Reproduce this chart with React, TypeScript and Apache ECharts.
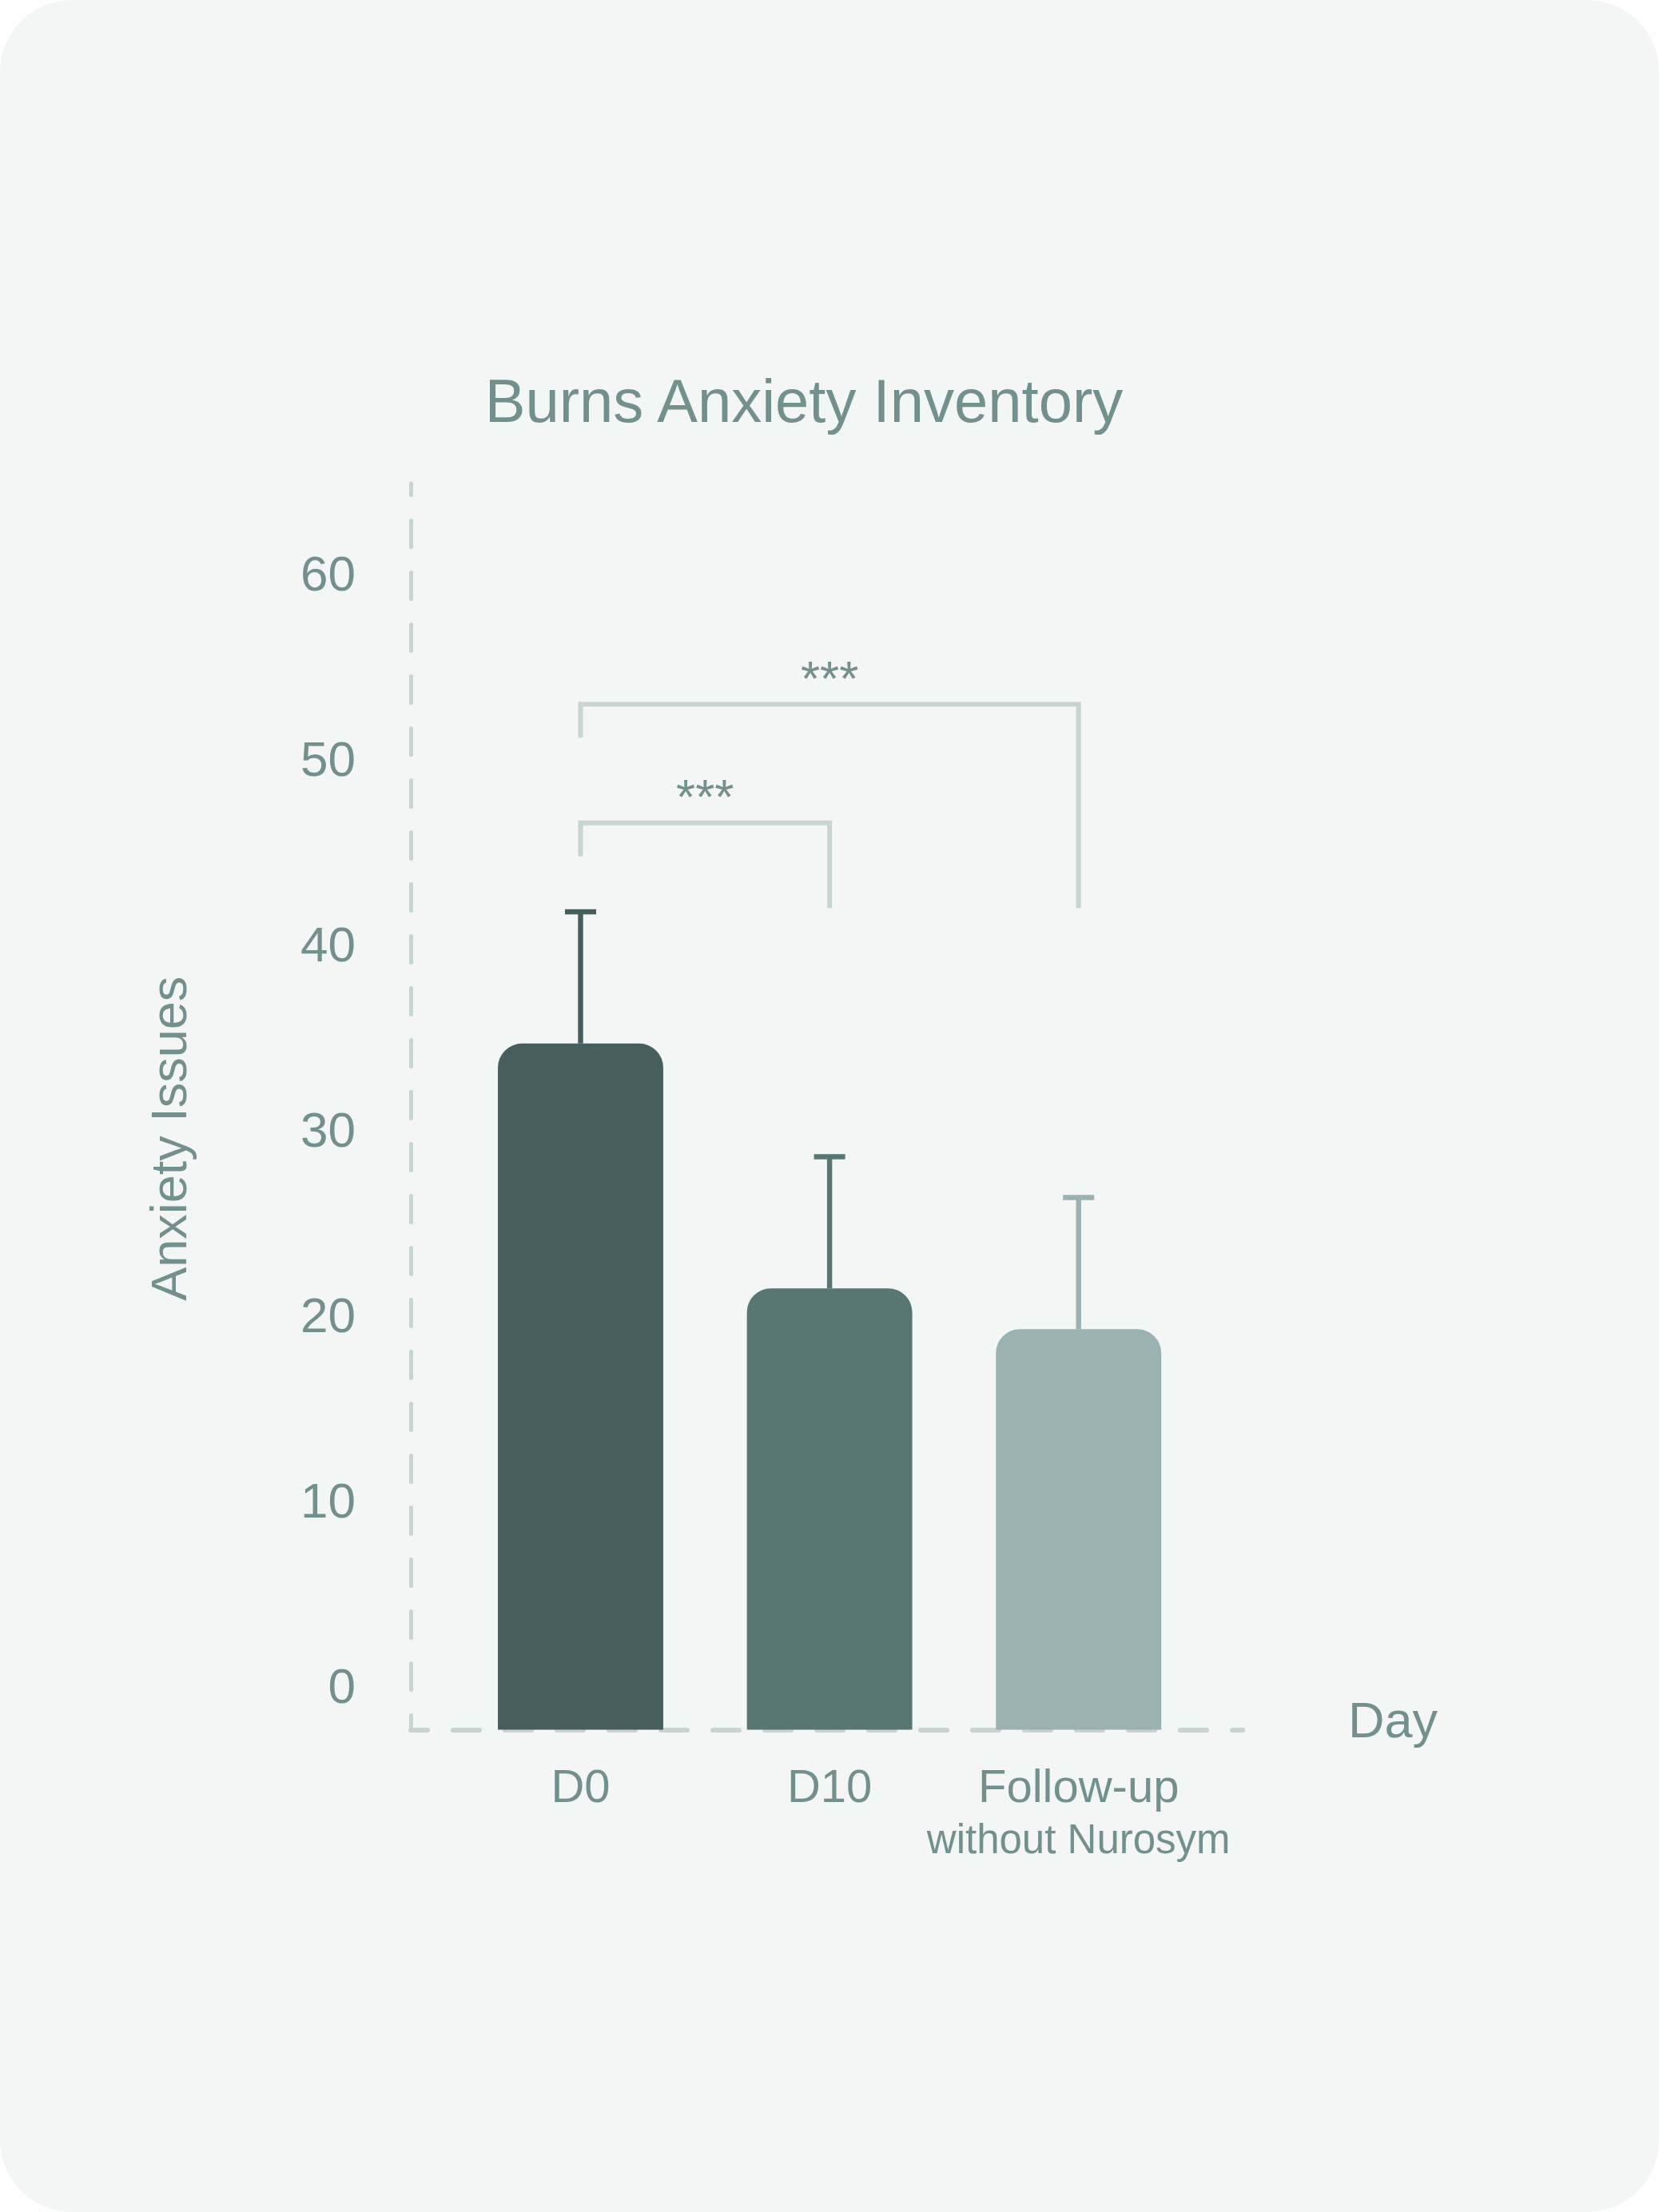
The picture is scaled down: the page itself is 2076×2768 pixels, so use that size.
import React, { useEffect, useRef } from "react";
import * as echarts from "echarts";

// ---- data ----
const categories: string[] = ["D0", "D10", "Follow-up\nwithout Nurosym"];
const means: number[] = [37.0, 23.8, 21.6];
const errors: number[] = [7.1, 7.1, 7.1];
const yTickStep = 10;
const yMax = 67.2;
// [fromIndex, toIndex, topValue, leftEndValue, rightEndValue]
const brackets: number[][] = [
  [0, 1, 48.9, 47.1, 44.3],
  [0, 2, 55.3, 53.5, 44.3],
];
const bracketLabels: string[] = ["***", "***"];

// ---- styles ----
const barColors = ["#465e5d", "#577674", "#9ab2b1"];
const TEXT = "#72908e";
const AXIS = "#c6d5d1";
const FONT = "'Liberation Sans', Arial, Helvetica, sans-serif";

export default function App() {
  const ref = useRef<HTMLDivElement>(null);

  useEffect(() => {
    if (!ref.current) return;
    const chart = echarts.init(ref.current, null, { renderer: "svg" });

    const option: any = {
      animation: false,
      backgroundColor: "transparent",
      textStyle: { fontFamily: FONT },
      title: {
        text: "Burns Anxiety Inventory",
        left: 1001,
        top: 458,
        textAlign: "center",
        textStyle: { fontSize: 76, fontWeight: "normal", color: TEXT, fontFamily: FONT },
      },
      grid: [
        { left: 514, right: 521, top: 605, bottom: 603.5 },
        { left: 570.7, right: 570.5, top: 605, bottom: 603.5 },
      ],
      xAxis: [
        {
          gridIndex: 0,
          type: "value",
          min: 0,
          max: 1,
          axisLine: {
            show: true,
            onZero: false,
            lineStyle: { color: AXIS, width: 6, type: [33, 32], dashOffset: 12 },
          },
          axisTick: { show: false },
          axisLabel: { show: false },
          splitLine: { show: false },
          name: "Day",
          nameLocation: "end",
          nameGap: 132,
          nameTextStyle: {
            fontSize: 63,
            color: TEXT,
            fontFamily: FONT,
            verticalAlign: "bottom",
            lineHeight: 26,
          },
        },
        {
          gridIndex: 1,
          type: "category",
          data: categories,
          axisLine: { show: false },
          axisTick: { show: false },
          splitLine: { show: false },
          axisLabel: {
            margin: 37,
            interval: 0,
            formatter: (val: string) =>
              val
                .split("\n")
                .map((l, i) => (i === 0 ? `{a|${l}}` : `{b|${l}}`))
                .join("\n"),
            rich: {
              a: { fontSize: 58, lineHeight: 66, color: TEXT, fontFamily: FONT, align: "center" },
              b: { fontSize: 51, lineHeight: 68, color: TEXT, fontFamily: FONT, align: "center" },
            },
          },
        },
      ],
      yAxis: [
        {
          gridIndex: 0,
          type: "value",
          min: 0,
          max: yMax,
          interval: yTickStep,
          axisLine: {
            show: true,
            onZero: false,
            lineStyle: { color: AXIS, width: 5, type: [33, 32], dashOffset: 15 },
          },
          axisTick: { show: false },
          splitLine: { show: false },
          axisLabel: {
            margin: 69,
            fontSize: 62,
            color: TEXT,
            fontFamily: FONT,
            verticalAlign: "bottom",
            lineHeight: 110,
            formatter: (v: number) => (Math.abs(v % yTickStep) < 1e-9 ? String(v) : ""),
          },
          name: "Anxiety Issues",
          nameLocation: "middle",
          nameGap: 272,
          nameTextStyle: { fontSize: 63, color: TEXT, fontFamily: FONT, padding: [0, 80, 0, 0] },
        },
        { gridIndex: 1, type: "value", min: 0, max: yMax, show: false },
      ],
      series: [
        {
          type: "bar",
          xAxisIndex: 1,
          yAxisIndex: 1,
          barWidth: "66.4%",
          z: 2,
          itemStyle: { borderRadius: [30, 30, 0, 0] },
          data: means.map((v, i) => ({ value: v, itemStyle: { color: barColors[i] } })),
        },
        {
          type: "custom",
          xAxisIndex: 1,
          yAxisIndex: 1,
          z: 3,
          data: means.map((m, i) => [i, m, m + errors[i]]),
          renderItem: (params: any, api: any) => {
            const i = api.value(0);
            const top = api.coord([i, api.value(2)]);
            const base = api.coord([i, api.value(1)]);
            const color = barColors[params.dataIndex];
            return {
              type: "group",
              children: [
                {
                  type: "line",
                  shape: { x1: top[0], y1: base[1], x2: top[0], y2: top[1] },
                  style: { stroke: color, lineWidth: 6.4 },
                },
                {
                  type: "line",
                  shape: { x1: top[0] - 19.5, y1: top[1], x2: top[0] + 19.5, y2: top[1] },
                  style: { stroke: color, lineWidth: 6.5 },
                },
              ],
            };
          },
        },
        {
          type: "custom",
          xAxisIndex: 1,
          yAxisIndex: 1,
          z: 3,
          data: brackets,
          renderItem: (params: any, api: any) => {
            const from = api.value(0);
            const to = api.value(1);
            const tl = api.coord([from, api.value(2)]);
            const tr = api.coord([to, api.value(2)]);
            const bl = api.coord([from, api.value(3)]);
            const br = api.coord([to, api.value(4)]);
            return {
              type: "group",
              children: [
                {
                  type: "polyline",
                  shape: { points: [bl, tl, tr, br] },
                  style: { stroke: AXIS, lineWidth: 6, fill: "none", lineJoin: "miter", lineCap: "butt" },
                },
                {
                  type: "text",
                  x: (tl[0] + tr[0]) / 2,
                  y: tl[1] - 33,
                  style: {
                    text: bracketLabels[params.dataIndex],
                    fill: TEXT,
                    fontSize: 62,
                    fontFamily: FONT,
                    align: "center",
                    verticalAlign: "middle",
                  },
                },
              ],
            };
          },
        },
      ],
    };

    chart.setOption(option);
    return () => chart.dispose();
  }, []);

  return (
    <div
      style={{
        position: "absolute",
        left: 0,
        top: 0,
        width: 2076,
        height: 2768,
        background: "#f4f6f5",
        borderRadius: 90,
        overflow: "hidden",
      }}
    >
      <div ref={ref} style={{ width: 2076, height: 2768 }} />
    </div>
  );
}
